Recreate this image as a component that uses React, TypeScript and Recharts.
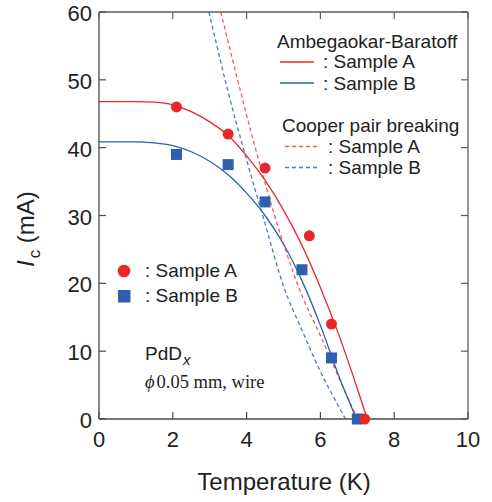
import React from 'react';
import { ComposedChart, Line, Scatter, XAxis, YAxis } from 'recharts';

// measured points
const tempA = [2.1, 3.5, 4.5, 5.7, 6.3, 7.2];
const icA = [46, 42, 37, 27, 14, 0];
const tempB = [2.1, 3.5, 4.5, 5.5, 6.3, 7.0];
const icB = [39, 37.5, 32, 22, 9, 0];

// Ambegaokar-Baratoff fits
const abTempA = [0, 0.5, 1, 1.5, 2, 2.5, 3, 3.5, 4, 4.5, 5, 5.5, 6, 6.5, 7, 7.27];
const abIcA = [46.8, 46.8, 46.8, 46.7, 46.3, 45.3, 43.8, 41.8, 38.8, 35.2, 30.8, 25.6, 19.4, 12.4, 4.5, 0];
const abTempB = [0, 0.5, 1, 1.5, 2, 2.5, 3, 3.5, 4, 4.5, 5, 5.5, 6, 6.5, 6.98];
const abIcB = [40.85, 40.85, 40.85, 40.7, 40.3, 39.4, 38.0, 36.0, 33.3, 30.0, 25.8, 20.4, 13.8, 6.3, 0];

// Cooper pair breaking fits
const cpTempA = [3.3, 3.5, 4, 4.5, 5, 5.5, 6, 6.5, 7];
const cpIcA = [60, 55.6, 44.8, 34.8, 25.8, 18.2, 12.3, 6.1, 0];
const cpTempB = [2.98, 3.5, 4, 4.5, 5, 5.5, 6, 6.5, 6.68];
const cpIcB = [60, 48.2, 38.2, 28.8, 19.6, 13.1, 7.0, 1.8, 0];

const xTicks = [0, 2, 4, 6, 8, 10];
const yTicks = [0, 10, 20, 30, 40, 50, 60];

const zip = (ts: number[], is: number[]) => ts.map((T, i) => ({ T, I: is[i] }));

const RED = '#e8262c';
const RED_DASH = '#ef5b61';
const BLUE = '#2f5fad';
const BLUE_DASH = '#4d78c2';
const AXIS = '#4a4a4a';
const FRAME = '#5e5e5e';
const FONT = '"Liberation Sans", Arial, sans-serif';
const TICK = 7;

const BottomTick = (p: any) => (
  <g>
    <line x1={p.x} y1={p.y} x2={p.x} y2={p.y - TICK} stroke={AXIS} strokeWidth={1.2} />
    <text x={p.x} y={p.y + 28} textAnchor="middle" fontSize={22} fill="#222" fontFamily={FONT}>
      {p.payload.value}
    </text>
  </g>
);

const LeftTick = (p: any) => (
  <g>
    <line x1={p.x} y1={p.y} x2={p.x + TICK} y2={p.y} stroke={AXIS} strokeWidth={1.2} />
    <text x={p.x - 7} y={p.y + 9} textAnchor="end" fontSize={22} fill="#222" fontFamily={FONT}>
      {p.payload.value}
    </text>
  </g>
);

const TopTick = (p: any) => (
  <line x1={p.x} y1={p.y} x2={p.x} y2={p.y + TICK} stroke={FRAME} strokeWidth={1.2} />
);

const RightTick = (p: any) => (
  <line x1={p.x} y1={p.y} x2={p.x - TICK} y2={p.y} stroke={FRAME} strokeWidth={1.2} />
);

const Dot = (p: any) => <circle cx={p.cx} cy={p.cy} r={5.5} fill={RED} />;
const Square = (p: any) => <rect x={p.cx - 5.5} y={p.cy - 5.5} width={11} height={11} fill={BLUE} />;

export default function App() {
  return (
    <div style={{ position: 'relative', width: 492, height: 502, background: '#fff' }}>
      <style>{'body{margin:0}'}</style>
      <ComposedChart width={492} height={502} margin={{ top: 11, right: 23, left: 0, bottom: 0 }}>
        <XAxis
          dataKey="T"
          type="number"
          domain={[0, 10]}
          ticks={xTicks}
          height={83}
          tickSize={0}
          tickMargin={0}
          tickLine={false}
          axisLine={{ stroke: AXIS, strokeWidth: 1.3 }}
          tick={BottomTick}
        />
        <XAxis
          xAxisId="top"
          dataKey="T"
          orientation="top"
          type="number"
          domain={[0, 10]}
          ticks={xTicks}
          height={1}
          tickSize={0}
          tickMargin={0}
          tickLine={false}
          axisLine={{ stroke: FRAME, strokeWidth: 1.3 }}
          tick={TopTick}
        />
        <YAxis
          type="number"
          domain={[0, 60]}
          ticks={yTicks}
          width={99}
          tickSize={0}
          tickMargin={0}
          tickLine={false}
          axisLine={{ stroke: AXIS, strokeWidth: 1.3 }}
          tick={LeftTick}
        />
        <YAxis
          yAxisId="right"
          orientation="right"
          type="number"
          domain={[0, 60]}
          ticks={yTicks}
          width={1}
          tickSize={0}
          tickMargin={0}
          tickLine={false}
          axisLine={{ stroke: FRAME, strokeWidth: 1.3 }}
          tick={RightTick}
        />
        {/* invisible series so the mirrored frame axes get drawn */}
        <Line data={zip(abTempA, abIcA)} xAxisId="top" yAxisId="right" dataKey="I" stroke="none" dot={false} activeDot={false} isAnimationActive={false} />
        <Line data={zip(cpTempA, cpIcA)} dataKey="I" type="monotone" stroke={RED_DASH} strokeWidth={1.3} strokeDasharray="4 3" dot={false} isAnimationActive={false} />
        <Line data={zip(cpTempB, cpIcB)} dataKey="I" type="monotone" stroke={BLUE_DASH} strokeWidth={1.3} strokeDasharray="4 3" dot={false} isAnimationActive={false} />
        <Line data={zip(abTempA, abIcA)} dataKey="I" type="monotone" stroke={RED} strokeWidth={1.3} dot={false} isAnimationActive={false} />
        <Line data={zip(abTempB, abIcB)} dataKey="I" type="monotone" stroke={BLUE} strokeWidth={1.3} dot={false} isAnimationActive={false} />
        <Scatter data={zip(tempB, icB)} dataKey="I" shape={Square} isAnimationActive={false} />
        <Scatter data={zip(tempA, icA)} dataKey="I" shape={Dot} isAnimationActive={false} />
      </ComposedChart>

      <svg width={492} height={502} style={{ position: 'absolute', left: 0, top: 0, pointerEvents: 'none' }} fontFamily={FONT} fill="#222">
        {/* axis titles */}
        <text x={284} y={490} textAnchor="middle" fontSize={24}>Temperature (K)</text>
        <text transform="rotate(-90 34 267)" x={34} y={267} fontSize={24}>
          <tspan fontStyle="italic">I</tspan>
          <tspan dx={2} dy={6} fontSize={17}>c</tspan>
          <tspan dy={-6}> (mA)</tspan>
        </text>

        {/* fit legend */}
        <text x={277} y={48} fontSize={19}>Ambegaokar-Baratoff</text>
        <line x1={280} y1={62} x2={314} y2={62} stroke={RED} strokeWidth={1.3} />
        <text x={323} y={68} fontSize={19}>: Sample A</text>
        <line x1={280} y1={83} x2={314} y2={83} stroke={BLUE} strokeWidth={1.3} />
        <text x={323} y={90} fontSize={19}>: Sample B</text>

        <text x={282} y={132} fontSize={19}>Cooper pair breaking</text>
        <line x1={285} y1={146.5} x2={319} y2={146.5} stroke={RED_DASH} strokeWidth={1.3} strokeDasharray="4 3" />
        <text x={328} y={153} fontSize={19}>: Sample A</text>
        <line x1={285} y1={167.5} x2={319} y2={167.5} stroke={BLUE_DASH} strokeWidth={1.3} strokeDasharray="4 3" />
        <text x={328} y={174} fontSize={19}>: Sample B</text>

        {/* marker legend */}
        <circle cx={124} cy={271} r={6.3} fill={RED} />
        <text x={145} y={277} fontSize={19}>: Sample A</text>
        <rect x={118} y={290} width={12.5} height={12.5} fill={BLUE} />
        <text x={145} y={302} fontSize={19}>: Sample B</text>

        {/* sample note */}
        <text x={145} y={360} fontSize={19}>
          PdD<tspan dx={1} dy={5} fontSize={15} fontStyle="italic">x</tspan>
        </text>
        <text x={145} y={388} fontSize={18.5} fontFamily={'"Liberation Serif", "Times New Roman", serif'}>
          <tspan fontStyle="italic">ϕ</tspan>
          <tspan dx={2}>0.05 mm, wire</tspan>
        </text>
      </svg>
    </div>
  );
}
